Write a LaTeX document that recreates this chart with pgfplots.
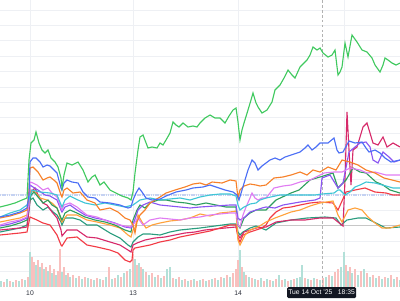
\documentclass[border=0pt]{standalone}
\usepackage{pgfplots}
\pgfplotsset{compat=1.18}
\usepackage{fontspec}
\setmainfont{Liberation Sans}
\definecolor{cgreen}{HTML}{40C95F}
\definecolor{cblue}{HTML}{4B6EF5}
\definecolor{corange}{HTML}{F7812A}
\definecolor{ccyan}{HTML}{3FC6D6}
\definecolor{clviolet}{HTML}{E07CF2}
\definecolor{cpurple}{HTML}{8A55F2}
\definecolor{cdkgreen}{HTML}{2E9E5E}
\definecolor{cteal}{HTML}{2A9C7E}
\definecolor{cred}{HTML}{F23B45}
\definecolor{ccrimson}{HTML}{D62A6A}
\definecolor{corangeb}{HTML}{FFA23C}
\definecolor{cpink}{HTML}{F9C0BE}
\definecolor{cvteal}{HTML}{B3E0D8}
\definecolor{cgrid}{HTML}{EEF0F4}
\definecolor{ctick}{HTML}{2A2E39}
\definecolor{ctip}{HTML}{131722}
\definecolor{cband}{HTML}{C5D2F2}
\begin{document}
\begin{tikzpicture}
\useasboundingbox (0,-0.325) rectangle (10,7.175);
\begin{axis}[at={(0,0)}, anchor=south west, scale only axis, width=10cm, height=7.175cm,
  xmin=0, xmax=400, ymin=0, ymax=287,
  axis line style={draw=none}, major tick length=0pt,
  xtick={30,133,238,344}, xticklabels={10,13,14,{}},
  ytick={15.2,30.6,46,61.4,76.8,92.2,107.6,123,138.4,153.8,169.2,184.6,200,215.4,230.8,246.2,261.6,277},
  yticklabels={},
  grid=major, grid style={line width=0.5pt, color=cgrid},
  xticklabel style={anchor=center, yshift=-0.15cm, font=\fontsize{4.8}{5}\selectfont, text=ctick}]
\addplot[ycomb, line width=1.1pt, color=cpink] coordinates {(4,5)(10,6)(16,7)(22,8)(28,10)(32,30)(34,25)(38,27)(42,24)(46,20)(50,22)(54,18)(58,16)(60,38)(64,20)(68,14)(73,12)(79,11)(85,10)(91,8)(97,9)(103,7)(109,20)(115,9)(121,10)(127,16)(133,33)(137,22)(141,20)(146,15)(152,14)(158,12)(164,11)(173,9)(179,10)(185,8)(191,7)(197,6)(203,8)(209,7)(215,9)(221,10)(227,12)(233,14)(236,18)(238,27)(242,20)(246,12)(252,9)(258,7)(264,6)(270,7)(276,8)(282,7)(288,6)(294,8)(305,9)(311,7)(317,8)(323,9)(329,12)(335,15)(338,18)(346,22)(350,20)(355,18)(361,16)(367,14)(373,12)(379,11)(385,10)(391,12)(397,10)};
\addplot[ycomb, line width=1.1pt, color=cvteal] coordinates {(1,6)(7,8)(13,5)(19,6)(25,7)(30,35)(36,22)(40,20)(44,18)(48,16)(52,14)(56,12)(62,15)(66,12)(70,10)(76,9)(82,8)(88,9)(94,7)(100,8)(106,10)(112,8)(118,12)(124,14)(130,18)(135,28)(139,24)(143,18)(149,12)(155,10)(161,9)(167,18)(170,20)(176,8)(182,7)(188,6)(194,8)(200,7)(206,6)(212,8)(218,7)(224,9)(230,10)(240,37)(244,15)(249,10)(255,8)(261,9)(267,8)(273,6)(279,12)(285,8)(291,7)(297,9)(300,10)(302,22)(308,8)(314,9)(320,7)(326,10)(332,11)(341,20)(344,35)(348,16)(352,14)(358,12)(364,18)(370,10)(376,9)(382,8)(388,9)(394,8)(400,7)};
\end{axis}
\begin{axis}[at={(0,0)}, anchor=south west, scale only axis, width=10cm, height=7.175cm,
  xmin=0, xmax=400, ymin=0, ymax=287, y dir=reverse, hide axis]
\addplot[line width=1.6pt, color=cband, dash pattern=on 1pt off 0.6pt] coordinates {(0,194.8)(400,194.8)};
\addplot[line width=0.5pt, color=black!22] coordinates {(0,225.8)(400,225.8)};
\addplot[line width=0.5pt, color=black!30, dash pattern=on 2pt off 1.5pt] coordinates {(322,0)(322,287)};
\addplot[line width=0.8pt, color=cteal] coordinates {(0,232)(10,230)(20,228)(27,225)(29,210)(30,200)(33,198)(37,205)(43,210)(48,207)(53,212)(57,215)(61,222)(62,225)(65,218)(73,218)(80,220)(87,225)(97,225)(110,233)(120,238)(128,245)(131,247)(133,242)(138,237)(143,234)(150,234)(160,235)(170,232)(180,230)(190,229)(200,228)(215,226)(230,224)(236,224)(238,232)(240,235)(243,232)(250,228)(256,226)(266,230)(276,223)(291,220)(307,218)(325,217)(336,218)(341,225)(347,220)(358,218)(366,218)(376,223)(386,228)(400,227)};
\addplot[line width=0.8pt, color=ccrimson] coordinates {(0,230)(10,229)(20,228)(27,227)(29,210)(31,192)(35,188)(38,195)(43,203)(47,205)(52,212)(57,218)(61,230)(62,236)(67,230)(77,230)(87,237)(97,238)(110,242)(120,245)(128,250)(131,252)(133,245)(137,243)(145,240)(155,238)(165,237)(175,235)(185,233)(195,232)(205,230)(215,229)(225,228)(236,227)(238,235)(240,238)(244,232)(250,230)(256,228)(266,227)(276,222)(291,220)(305,220)(320,218)(333,218)(338,222)(343,226)(345,180)(347,112)(349,150)(351,185)(353,150)(357,147)(363,127)(367,123)(370,133)(373,143)(378,145)(383,137)(387,147)(393,143)(400,147)};
\addplot[line width=0.8pt, color=cred] coordinates {(0,235)(10,234)(20,233)(27,232)(29,222)(30,217)(37,220)(43,223)(50,225)(57,235)(61,245)(62,246)(67,238)(77,237)(87,245)(97,247)(110,250)(118,253)(125,260)(130,262)(132,260)(133,250)(135,248)(140,247)(150,245)(160,242)(170,240)(180,237)(190,235)(200,233)(210,231)(220,228)(230,225)(236,225)(238,238)(240,242)(243,235)(250,232)(256,230)(262,228)(266,225)(270,218)(276,212)(283,208)(291,207)(300,205)(310,203)(320,202)(333,203)(338,210)(346,192)(355,190)(365,188)(375,192)(386,193)(393,195)(400,195)};
\addplot[line width=0.8pt, color=corangeb] coordinates {(0,222)(10,220)(20,218)(27,215)(29,200)(31,190)(35,192)(40,198)(47,200)(52,203)(57,208)(61,220)(62,222)(67,215)(77,215)(87,220)(97,222)(110,225)(120,228)(128,235)(131,237)(133,230)(135,228)(138,215)(142,222)(146,228)(152,225)(160,223)(170,221)(180,220)(190,218)(200,214)(210,216)(220,213)(230,212)(236,211)(238,240)(240,245)(245,235)(250,230)(258,227)(266,222)(275,218)(283,215)(291,212)(300,210)(310,206)(320,203)(333,201)(338,215)(342,222)(348,210)(355,208)(362,210)(368,217)(375,223)(382,228)(390,228)(400,225)};
\addplot[line width=0.8pt, color=cdkgreen] coordinates {(0,228)(10,226)(20,223)(27,220)(29,205)(31,195)(34,192)(38,197)(43,203)(48,200)(52,205)(57,208)(61,218)(62,220)(65,213)(70,210)(77,213)(85,217)(95,220)(105,222)(115,225)(125,230)(131,232)(133,220)(137,210)(140,205)(145,208)(150,203)(158,200)(166,200)(176,202)(186,203)(196,205)(206,203)(216,205)(226,207)(236,207)(238,225)(240,228)(244,218)(250,213)(256,210)(262,210)(266,210)(276,200)(291,193)(299,190)(310,180)(320,177)(333,173)(338,188)(346,180)(353,168)(360,172)(366,173)(376,182)(383,185)(390,190)(400,193)};
\addplot[line width=0.8pt, color=cpurple] coordinates {(0,226)(10,224)(20,221)(27,218)(29,205)(30,185)(33,187)(38,190)(45,195)(50,196)(57,200)(61,210)(62,212)(65,207)(70,205)(77,210)(85,215)(95,218)(105,220)(115,223)(125,227)(131,228)(133,225)(138,210)(143,205)(150,202)(160,205)(170,206)(180,207)(190,208)(200,207)(215,206)(230,205)(236,205)(238,218)(240,220)(245,217)(250,212)(256,210)(262,208)(266,207)(275,208)(283,205)(300,202)(315,200)(320,198)(322,178)(330,175)(338,188)(343,183)(349,152)(355,147)(360,143)(366,142)(370,147)(373,160)(378,163)(383,152)(389,157)(394,162)(400,160)};
\addplot[line width=0.8pt, color=clviolet] coordinates {(0,225)(10,222)(20,220)(27,217)(29,205)(30,182)(33,183)(37,185)(43,190)(48,188)(52,193)(57,197)(61,208)(62,210)(64,205)(70,203)(77,207)(83,212)(87,215)(97,217)(110,222)(120,225)(130,227)(133,225)(138,218)(143,225)(150,220)(160,218)(170,219)(180,220)(190,218)(200,217)(210,215)(220,214)(230,213)(236,213)(238,225)(240,227)(243,215)(246,207)(250,198)(252,193)(255,198)(258,200)(262,198)(266,198)(274,188)(283,186)(291,185)(300,182)(310,180)(318,176)(324,173)(334,172)(342,172)(350,168)(360,170)(367,173)(375,172)(386,175)(393,175)(400,175)};
\addplot[line width=0.8pt, color=ccyan] coordinates {(0,217)(10,213)(20,210)(27,205)(29,200)(32,190)(40,192)(50,193)(57,195)(62,207)(65,200)(70,196)(78,200)(85,203)(95,205)(105,203)(115,205)(125,207)(133,205)(140,200)(150,198)(160,200)(170,199)(180,198)(190,200)(200,197)(210,195)(220,194)(230,194)(236,196)(238,205)(240,210)(244,207)(250,204)(256,203)(260,200)(266,198)(280,195)(300,195)(315,195)(322,194)(334,193)(338,190)(340,190)(345,195)(350,192)(355,187)(360,185)(366,182)(375,183)(386,186)(393,188)(400,188)};
\addplot[line width=0.8pt, color=corange] coordinates {(0,218)(10,216)(20,213)(27,210)(29,190)(30,168)(33,167)(38,172)(43,180)(47,178)(50,177)(55,181)(57,183)(61,195)(62,197)(64,190)(67,188)(73,193)(80,192)(87,200)(95,203)(100,210)(110,208)(118,212)(125,218)(130,220)(133,225)(135,233)(137,222)(140,215)(145,210)(150,203)(160,197)(166,193)(175,190)(185,187)(193,184)(200,183)(206,185)(212,182)(222,183)(230,180)(236,181)(238,198)(240,190)(244,186)(250,184)(256,185)(260,186)(266,185)(274,178)(283,177)(291,175)(300,172)(307,175)(313,170)(320,172)(328,167)(336,170)(342,160)(350,162)(358,165)(366,170)(375,173)(384,178)(392,180)(400,182)};
\addplot[line width=0.8pt, color=cblue] coordinates {(0,217)(10,215)(20,212)(27,208)(29,195)(30,162)(33,158)(36,158)(40,162)(43,167)(47,165)(50,166)(54,170)(57,173)(61,188)(62,190)(64,183)(67,180)(72,182)(78,183)(83,192)(88,197)(95,198)(100,202)(110,203)(120,205)(128,208)(131,207)(133,200)(136,193)(139,188)(142,192)(146,198)(152,200)(160,199)(166,196)(176,192)(186,190)(193,188)(203,187)(210,185)(216,187)(225,190)(233,192)(237,195)(239,200)(242,190)(245,180)(248,170)(252,160)(255,163)(258,170)(262,166)(266,163)(270,160)(275,158)(280,160)(285,157)(291,155)(300,152)(305,148)(308,145)(312,150)(316,147)(320,143)(328,143)(334,138)(337,150)(339,153)(343,152)(349,141)(355,143)(362,142)(366,148)(369,152)(375,150)(380,153)(385,158)(391,162)(400,160)};
\addplot[line width=0.8pt, color=cgreen] coordinates {(0,207)(8,205)(15,203)(22,200)(27,198)(29,160)(31,143)(34,140)(36,132)(39,143)(42,150)(45,153)(48,150)(51,158)(55,162)(58,167)(61,178)(62,188)(64,175)(67,163)(72,165)(78,162)(83,170)(88,182)(92,177)(95,175)(100,185)(104,182)(110,190)(116,193)(122,196)(128,198)(131,200)(133,192)(135,173)(138,150)(140,137)(143,135)(148,148)(152,147)(157,148)(160,143)(163,145)(166,140)(170,133)(173,122)(176,125)(179,127)(183,123)(188,127)(193,126)(197,127)(200,123)(205,118)(210,115)(215,118)(220,118)(225,123)(229,116)(233,110)(236,108)(238,122)(240,140)(242,130)(244,123)(248,110)(251,100)(253,93)(256,103)(258,107)(262,113)(267,110)(272,102)(275,90)(280,85)(284,78)(288,70)(292,75)(295,78)(300,67)(304,63)(307,60)(310,55)(313,47)(317,50)(320,48)(323,53)(328,57)(332,55)(335,50)(338,75)(340,72)(342,67)(345,43)(348,57)(352,35)(357,42)(362,50)(367,52)(372,58)(375,65)(380,72)(383,65)(385,58)(388,60)(392,63)(396,65)(400,63)};
\end{axis}
\node[fill=ctip, rounded corners=1pt, minimum width=1.725cm, minimum height=0.28cm, inner sep=0pt, text=white, font=\fontsize{4.8}{5}\selectfont] at (8.04,-0.14) {Tue 14 Oct '25\hspace{4pt}18:35};
\end{tikzpicture}
\end{document}
